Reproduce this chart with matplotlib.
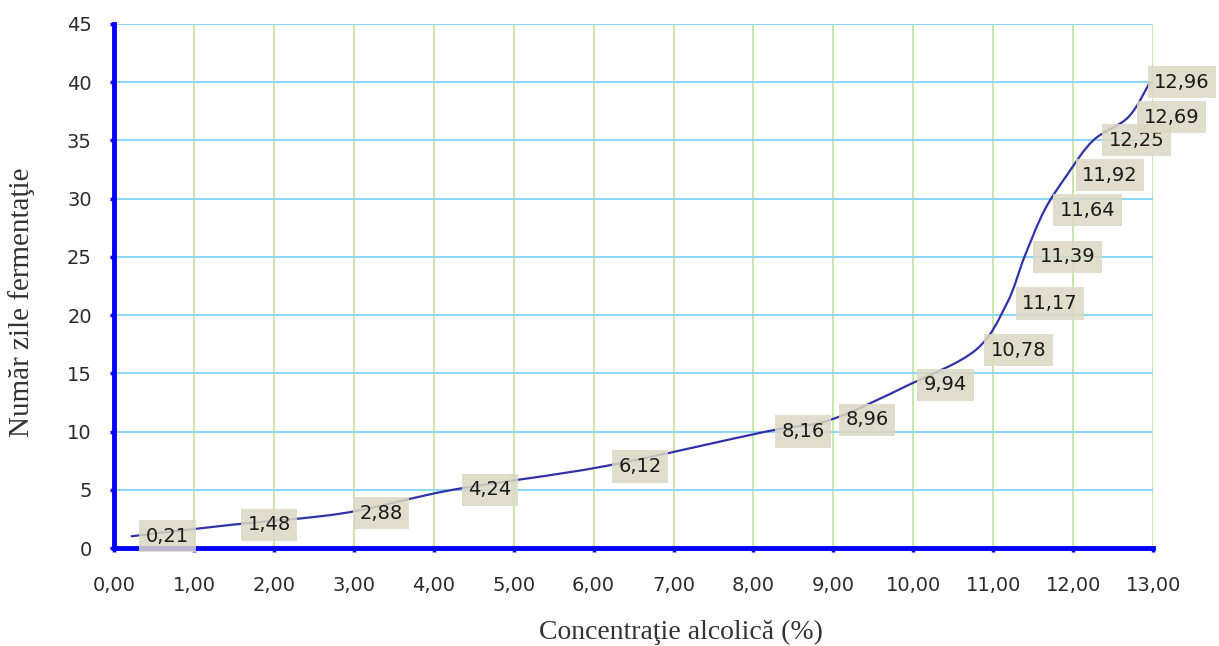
import numpy as np
from matplotlib import pyplot as plt
from matplotlib.path import Path
from matplotlib.patches import PathPatch
from matplotlib.ticker import FuncFormatter, MultipleLocator

# alcohol concentration (%) and number of fermentation days
concentratie = [0.21, 1.48, 2.88, 4.24, 6.12, 8.16, 8.96, 9.94, 10.78,
                11.17, 11.39, 11.64, 11.92, 12.25, 12.69, 12.96]
zile = [1, 2, 3, 5, 7, 10, 11, 14, 17, 21, 25, 29, 32, 35, 37, 40]
etichete = [f"{v:.2f}".replace(".", ",") for v in concentratie]

x_ticks = np.arange(0, 14, 1)
y_ticks = np.arange(0, 50, 5)


def smooth_path(xs, ys):
    # excel-like smoothed line: cubic bezier with catmull-rom tangents
    pts = np.column_stack([xs, ys])
    verts = [pts[0]]
    codes = [Path.MOVETO]
    n = len(pts)
    for i in range(n - 1):
        p0 = pts[i - 1] if i > 0 else pts[i]
        p1 = pts[i]
        p2 = pts[i + 1]
        p3 = pts[i + 2] if i + 2 < n else pts[i + 1]
        c1 = p1 + (p2 - p0) / 6
        c2 = p2 - (p3 - p1) / 6
        verts += [c1, c2, p2]
        codes += [Path.CURVE4] * 3
    return Path(verts, codes)


fig = plt.figure(figsize=(12.19, 6.46), dpi=100)
ax = fig.add_axes([0.0935, 0.1517, 0.8525, 0.8113])

ax.set_xlim(0, 13)
ax.set_ylim(0, 45)
ax.xaxis.set_major_locator(MultipleLocator(1))
ax.yaxis.set_major_locator(MultipleLocator(5))
ax.xaxis.set_major_formatter(FuncFormatter(lambda v, p: f"{v:.2f}".replace(".", ",")))

# grid: green verticals, light blue horizontals
for xv in x_ticks[1:]:
    ax.axvline(xv, color="#bfe39a", lw=1.2, zorder=0)
for yv in y_ticks[1:]:
    ax.axhline(yv, color="#80d4f6", lw=1.3, zorder=0)

for side in ["top", "right"]:
    ax.spines[side].set_visible(False)
for side in ["left", "bottom"]:
    ax.spines[side].set_color("#0000ff")
    ax.spines[side].set_linewidth(3.5)
    ax.spines[side].set_zorder(5)

ax.tick_params(axis="both", colors="#0000ff", length=3, width=2.5, direction="out",
               labelcolor="#2b2b2b", labelsize=14)
ax.tick_params(axis="x", pad=17)
ax.tick_params(axis="y", pad=13)
for lbl in ax.get_xticklabels() + ax.get_yticklabels():
    lbl.set_family("DejaVu Sans")

line = PathPatch(smooth_path(concentratie, zile), facecolor="none",
                 edgecolor="#3232a8", lw=1.6, zorder=3)
ax.add_patch(line)

for i, (xv, yv, txt) in enumerate(zip(concentratie, zile, etichete)):
    # last label is pushed left by the figure edge, as in the original
    dx = 11 if i < len(concentratie) - 1 else 3
    ax.annotate(txt, (xv, yv), xytext=(dx, 0), textcoords="offset points",
                ha="left", va="center", fontsize=14, color="#1a1a1a",
                family="DejaVu Sans", zorder=6,
                bbox=dict(boxstyle="square,pad=0.34", fc="#dcd8c3", ec="none", alpha=0.85))

fig.text(681 / 1219, 1 - 632 / 646, "Concentraţie alcolică (%)", ha="center", va="center",
         fontsize=20, family="Liberation Serif", color="#333333")
fig.text(22 / 1219, 1 - 302 / 646, "Număr zile fermentaţie", ha="center", va="center",
         rotation=90, fontsize=21, family="Liberation Serif", color="#333333")

plt.savefig("out.png", dpi=100)
